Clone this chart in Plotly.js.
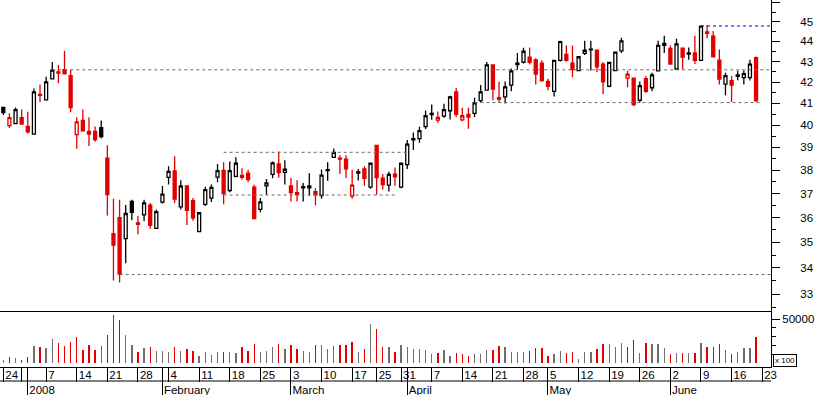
<!DOCTYPE html>
<html><head><meta charset="utf-8">
<script src="https://cdn.plot.ly/plotly-3.0.1.min.js"></script>
<style>html,body{margin:0;padding:0;background:#fff}#chart{width:817px;height:395px}</style>
</head><body><div id="chart"></div>
<script>
// Daily prices, trading days from 24 Dec 2007 to 20 Jun 2008 (index = trading day)
const openP  = [40.81,39.98,40.07,40.34,39.94,39.59,41.42,41.17,42.16,42.50,42.61,42.32,39.57,40.21,39.72,39.71,39.88,38.52,35.35,36.00,
35.15,36.67,35.78,36.11,36.52,35.56,36.64,37.69,37.97,36.44,37.33,36.70,35.43,36.55,36.81,37.70,37.99,37.13,37.73,37.69,
37.87,37.27,36.34,37.33,37.82,38.27,37.90,37.33,37.04,37.24,37.24,37.08,36.92,37.98,38.56,38.52,38.48,36.89,37.87,38.05,
37.27,39.09,37.66,37.36,37.83,37.27,38.24,39.33,39.39,39.93,40.48,40.23,40.41,40.66,41.54,40.24,40.49,40.54,41.13,41.63,
42.84,41.27,41.31,41.86,42.86,42.97,43.22,43.09,42.93,42.04,41.57,43.06,43.36,42.93,42.56,43.41,43.58,43.56,42.88,41.81,
42.56,43.53,42.20,42.20,41.15,42.18,41.74,42.55,43.80,43.65,42.64,43.66,43.37,43.43,43.06,44.48,44.27,43.07,41.91,42.08,
42.29,42.22,42.22,43.20];
const highP  = [40.82,40.55,40.81,40.72,40.61,41.70,41.89,42.26,42.98,42.84,43.54,42.60,40.36,40.72,40.36,39.94,40.21,39.09,36.78,36.74,
36.52,36.74,36.07,36.74,36.61,36.33,37.32,38.17,38.61,37.57,37.35,36.81,36.21,37.29,37.38,38.27,38.34,38.38,38.56,38.08,
38.02,37.37,36.81,37.62,38.38,38.82,38.43,37.66,37.57,37.45,37.87,37.23,38.03,38.34,38.95,38.65,38.65,38.02,38.05,38.17,
38.31,39.10,37.83,37.93,38.12,38.31,39.33,39.66,39.93,40.67,40.95,40.63,40.99,41.36,41.73,40.80,40.80,41.27,41.87,42.98,
42.86,42.02,42.04,42.67,43.43,43.69,43.70,43.17,43.07,42.17,43.07,44.04,43.80,43.80,43.27,44.04,44.04,43.58,42.98,42.98,
43.48,44.18,42.56,42.22,42.04,42.30,42.46,44.04,44.28,43.80,44.14,43.70,43.70,44.28,44.78,44.83,44.52,43.60,42.46,42.30,
42.56,42.57,43.09,43.25];
const lowP   = [40.46,39.87,40.05,40.03,39.62,39.57,41.07,41.15,42.14,41.95,42.38,40.59,38.94,39.72,39.06,39.25,39.39,36.09,33.51,33.44,
34.18,35.89,35.33,35.85,35.55,35.54,36.58,37.38,36.61,36.34,35.70,35.87,35.41,36.48,36.65,37.48,36.55,37.06,37.69,37.59,
37.48,35.93,36.22,36.95,37.65,37.67,37.38,36.67,36.67,36.67,36.92,36.51,36.78,37.54,38.53,37.83,37.66,36.78,37.55,37.33,
37.20,36.95,37.17,37.09,37.33,37.23,38.05,38.88,39.20,39.82,40.24,40.11,40.34,40.26,40.37,40.18,39.84,40.37,41.04,41.60,
41.15,41.04,41.00,41.57,42.60,42.91,42.86,41.89,42.03,41.62,41.33,43.01,43.01,42.24,42.53,43.33,42.57,42.49,41.44,41.76,
42.55,43.43,41.76,40.87,41.04,41.49,41.57,42.52,43.43,42.86,42.62,42.61,43.09,42.88,43.05,44.16,43.22,41.89,41.38,41.07,
42.10,41.89,42.08,41.07];
const closeP = [40.57,40.34,40.71,40.05,39.69,41.54,41.38,42.02,42.59,42.44,42.40,40.81,40.15,39.74,39.59,39.35,39.48,36.96,34.89,33.76,
36.17,36.22,35.73,36.61,35.68,36.25,36.98,37.95,36.77,37.32,36.30,35.99,36.20,37.17,37.26,37.98,37.00,37.98,38.30,37.77,
37.59,35.96,36.65,37.45,38.32,37.89,38.04,37.04,36.96,37.29,37.33,36.95,37.79,38.02,38.78,38.48,38.06,37.36,37.93,37.65,
38.30,37.68,37.38,37.82,37.71,38.30,39.14,39.39,39.75,40.43,40.54,40.35,40.71,41.31,40.49,40.43,40.37,41.03,41.54,42.84,
41.68,41.20,41.78,42.55,42.92,43.51,42.97,42.39,42.08,41.81,43.06,43.99,43.06,42.61,43.24,43.56,43.62,42.74,42.02,42.96,
43.47,44.03,42.39,40.95,41.84,41.57,42.36,43.80,43.90,42.88,43.88,43.22,43.43,43.06,44.77,44.41,43.24,42.15,42.32,41.86,
42.36,42.42,42.88,41.13];
// Volume in units of 100 shares
const volume = [3800,7200,6000,3800,7200,19600,18400,17300,27500,23000,19600,24100,29700,15100,20700,15100,19600,32000,54600,48900,
32000,20700,12800,17300,18400,13900,13900,12800,18400,13900,16200,13900,8300,12800,9400,12800,12800,12800,11700,18400,
13900,21800,12800,13900,18400,21800,16200,20700,16200,13900,12800,20700,20700,16200,19600,20700,20700,24100,12800,16200,
44400,38800,18400,18400,12800,20700,18400,16200,16200,15100,10500,11700,15100,8300,11700,10500,8300,10500,10500,15100,
15100,19600,18400,12800,12800,12800,13900,17300,17300,8300,10500,13900,11700,12800,4900,12800,12800,16200,21800,21800,
18400,23000,18400,26300,11700,23000,21800,21800,17300,10500,11700,11700,11700,11700,23000,18400,18400,21800,15100,10500,
12800,17300,17300,29700];

// Date axis labels (trading-day index of each tick)
const dayTickIdx  = [0,3,7,12,17,22,27,32,37,42,47,52,57,61,65,70,75,80,85,89,94,99,104,109,114,119,124];
const dayTickText = ['24','','7','14','21','28','4','11','18','25','3','10','17','25','31','7','14','21','28','5','12','19','26','2','9','16','23'];
const monthTickIdx  = [4,26,47,66,89,109];
const monthTickText = ['2008','February','March','April','May','June'];

// Price axis ticks
const priceTicks = [33,34,35,36,37,38,39,40,41,42,43,44,45,46];
const priceTickText = ['33','34','35','36','37','38','39','40','41','42','43','44','45',''];
const priceMinorTicks = [32.5,33.5,34.5,35.5,36.5,37.5,38.5,39.5,40.5,41.5,42.5,43.5,44.5,45.5];
const volumeTicks = [50000];
const volumeTickText = ['50000'];
const volumeMinorTicks = [10000,20000,30000,40000];

// Horizontal trend lines drawn on the chart (price level, first and last trading-day index)
const levelPrice = [42.60, 38.78, 36.94, 33.74, 41.04, 44.78];
const levelStart = [8, 36, 36, 19, 77, 114];
const levelEnd   = [125.44, 66, 64, 125.44, 123.6, 125.44];
const levelKind  = ['grey','grey','grey','grey','grey','blue'];

const RED = '#e00000', GREY_VOL = '#6e6e6e';
const XR = [-0.54, 125.44];
const idx = openP.map((_, i) => i);

// group candles: hollow when close>open, red when close fell vs previous close
const groups = {blackUp: [], redUp: [], redDown: [], blackDown: []};
idx.forEach(i => {
  const up = closeP[i] > openP[i];
  const fell = i > 0 && closeP[i] < closeP[i - 1];
  if (up && !fell) groups.blackUp.push(i);
  else if (up && fell) groups.redUp.push(i);
  else if (!up && fell) groups.redDown.push(i);
  else groups.blackDown.push(i);
});
function candle(ids, col, fill) {
  const dir = {line: {color: col, width: 1.3}, fillcolor: fill};
  return {type: 'candlestick', x: ids, open: ids.map(i => openP[i]), high: ids.map(i => highP[i]),
    low: ids.map(i => lowP[i]), close: ids.map(i => closeP[i]), xaxis: 'x', yaxis: 'y',
    increasing: dir, decreasing: dir, whiskerwidth: 0, hoverinfo: 'skip', showlegend: false};
}
const traces = [];
levelPrice.forEach((p, k) => {
  traces.push({type: 'scatter', mode: 'lines', x: [levelStart[k], levelEnd[k]], y: [p, p], xaxis: 'x', yaxis: 'y',
    line: {color: levelKind[k] === 'blue' ? '#0000ee' : '#6a6a6a', width: 1, dash: '3px,3px'}, hoverinfo: 'skip', showlegend: false});
});
traces.push(candle(groups.blackUp, '#000', '#fff'));
traces.push(candle(groups.redUp, RED, '#fff'));
traces.push(candle(groups.redDown, RED, RED));
traces.push(candle(groups.blackDown, '#000', '#000'));
traces.push({type: 'bar', x: idx, y: volume, xaxis: 'x2', yaxis: 'y2', width: 0.22,
  marker: {color: idx.map(i => (i > 0 && closeP[i] < closeP[i - 1]) ? RED : GREY_VOL), line: {width: 0}},
  hoverinfo: 'skip', showlegend: false});
traces.push({type: 'scatter', mode: 'none', x: idx, y: volume, xaxis: 'x3', yaxis: 'y2', hoverinfo: 'skip', showlegend: false});

const PH = 367; // plot-area height in px
const layout = {
  width: 817, height: 395, margin: {l: 0, r: 46, t: 0, b: 28, pad: 0},
  paper_bgcolor: '#fff', plot_bgcolor: '#fff', showlegend: false, bargap: 0,
  font: {family: 'Liberation Sans, Arial, sans-serif', size: 11.5, color: '#000'},
  xaxis: {domain: [0, 1], range: XR, anchor: 'y', showticklabels: false, ticks: '', showgrid: false, zeroline: false,
    showline: true, linecolor: '#000', linewidth: 1, rangeslider: {visible: false}, fixedrange: true},
  yaxis: {domain: [(PH - 310.5) / PH, 1], type: 'log', range: [Math.log10(32.387), Math.log10(46.126)], side: 'right', anchor: 'x',
    showline: true, linecolor: '#000', linewidth: 1, ticks: 'outside', ticklen: 8, tickcolor: '#000', tickwidth: 1,
    tickmode: 'array', tickvals: priceTicks, ticktext: priceTickText, ticklabelstandoff: 18,
    showgrid: false, zeroline: false, fixedrange: true,
    minor: {tickmode: 'array', tickvals: priceMinorTicks, ticks: 'outside', ticklen: 4, tickcolor: '#000', tickwidth: 1, showgrid: false}},
  xaxis2: {domain: [0, 1], range: XR, anchor: 'y2', tickmode: 'array', tickvals: dayTickIdx, ticktext: dayTickText,
    ticks: 'outside', ticklen: 14, tickcolor: '#000', tickwidth: 1, ticklabelposition: 'outside right',
    ticklabelstandoff: -3, ticklabelshift: 1, showline: true, linecolor: '#000', linewidth: 1,
    showgrid: false, zeroline: false, fixedrange: true},
  xaxis3: {overlaying: 'x2', anchor: 'y2', range: XR, tickmode: 'array', tickvals: monthTickIdx, ticktext: monthTickText,
    ticks: 'outside', ticklen: 28, tickcolor: '#000', tickwidth: 1, ticklabelposition: 'outside right',
    ticklabelstandoff: 12, ticklabelshift: 1, showline: false, showgrid: false, zeroline: false, fixedrange: true},
  yaxis2: {domain: [0, (PH - 311) / PH], range: [-4176, 59030], side: 'right', anchor: 'x2',
    showline: true, linecolor: '#000', linewidth: 1, ticks: 'outside', ticklen: 8, tickcolor: '#000', tickwidth: 1,
    tickmode: 'array', tickvals: volumeTicks, ticktext: volumeTickText,
    showgrid: false, zeroline: false, fixedrange: true,
    minor: {tickmode: 'array', tickvals: volumeMinorTicks, ticks: 'outside', ticklen: 4, tickcolor: '#000', tickwidth: 1, showgrid: false}},
  shapes: [{type: 'line', xref: 'paper', yref: 'paper', x0: 0, x1: 1, y0: -14 / PH, y1: -14 / PH, line: {color: '#000', width: 1}}],
  annotations: [{xref: 'paper', yref: 'paper', x: 1.002, y: 0, xanchor: 'left', yanchor: 'bottom', text: 'x 100',
    showarrow: false, font: {size: 8, color: '#000'}, bordercolor: '#000', borderwidth: 1, borderpad: 1, bgcolor: '#fff'}]
};
Plotly.newPlot('chart', traces, layout, {staticPlot: true, displayModeBar: false});
</script>
</body></html>
